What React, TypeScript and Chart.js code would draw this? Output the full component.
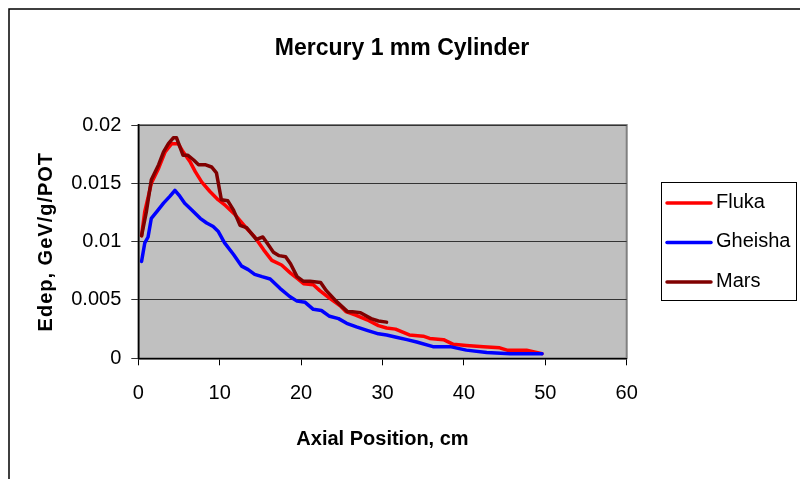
import React, { useEffect, useRef } from 'react';
import { Chart, registerables } from 'chart.js';

Chart.register(...registerables);

const chartTitle = 'Mercury 1 mm Cylinder';
const xAxisTitle = 'Axial Position, cm';
const yAxisTitle = 'Edep, GeV/g/POT';
const xTickLabels = ['0', '10', '20', '30', '40', '50', '60'];
const yTickLabels = ['0', '0.005', '0.01', '0.015', '0.02'];
const seriesNames = ['Fluka', 'Gheisha', 'Mars'];
const seriesColors = ['#ff0000', '#0000ff', '#800000'];

const flukaX = [0.4, 0.8, 1.6, 2.5, 3.3, 4.1, 4.9, 5.5, 6.4, 7.0, 7.8, 8.8, 9.8, 10.7, 11.9, 13.1, 14.3, 15.4, 16.4, 17.6, 18.7, 19.6, 20.3, 21.5, 22.3, 23.4, 24.8, 25.5, 26.7, 28.1, 29.5, 30.5, 31.6, 33.3, 35.0, 35.8, 37.5, 38.7, 40.3, 42.4, 44.4, 45.3, 47.7, 49.6];
const flukaY = [0.0105, 0.0126, 0.0150, 0.0163, 0.0177, 0.0184, 0.0184, 0.0177, 0.0168, 0.0160, 0.0151, 0.0143, 0.0136, 0.0131, 0.0123, 0.0113, 0.0104, 0.0093, 0.0084, 0.0080, 0.0073, 0.0068, 0.0064, 0.0063, 0.0058, 0.0052, 0.0045, 0.0040, 0.0037, 0.0033, 0.0028, 0.0026, 0.0025, 0.0020, 0.0019, 0.0017, 0.0016, 0.0012, 0.0011, 0.0010, 0.0009, 0.0007, 0.0007, 0.0004];

const gheishaX = [0.4, 0.8, 1.2, 1.6, 2.3, 3.1, 3.9, 4.5, 5.1, 5.7, 6.6, 7.6, 8.4, 9.2, 9.8, 10.6, 11.7, 12.7, 13.5, 14.3, 15.2, 16.2, 17.4, 18.6, 19.5, 20.5, 21.5, 22.5, 23.5, 24.6, 25.6, 26.8, 28.1, 29.5, 30.5, 31.7, 33.0, 34.2, 36.2, 38.3, 40.3, 42.8, 45.7, 49.6];
const gheishaY = [0.0083, 0.0099, 0.0104, 0.0120, 0.0126, 0.0133, 0.0139, 0.0144, 0.0139, 0.0133, 0.0127, 0.0120, 0.0116, 0.0113, 0.0109, 0.0099, 0.0089, 0.0079, 0.0076, 0.0072, 0.0070, 0.0068, 0.0060, 0.0053, 0.0049, 0.0048, 0.0042, 0.0041, 0.0036, 0.0034, 0.0030, 0.0027, 0.0024, 0.0021, 0.0020, 0.0018, 0.0016, 0.0014, 0.0010, 0.0010, 0.0007, 0.0005, 0.0004, 0.0004];

const marsX = [0.4, 1.0, 1.6, 2.5, 3.1, 3.7, 4.3, 4.7, 5.5, 6.1, 6.8, 7.4, 8.2, 9.0, 9.6, 10.2, 11.0, 11.7, 12.5, 13.3, 14.5, 15.3, 15.8, 16.6, 17.3, 18.1, 18.7, 19.5, 20.3, 21.1, 22.4, 23.1, 24.3, 25.7, 26.3, 27.3, 28.6, 29.5, 30.5];
const marsY = [0.0105, 0.0126, 0.0153, 0.0166, 0.0177, 0.0184, 0.0189, 0.0189, 0.0174, 0.0174, 0.0170, 0.0166, 0.0166, 0.0164, 0.0159, 0.0136, 0.0135, 0.0127, 0.0114, 0.0112, 0.0102, 0.0104, 0.0099, 0.0091, 0.0088, 0.0087, 0.0081, 0.0070, 0.0066, 0.0066, 0.0065, 0.0058, 0.0049, 0.0040, 0.0040, 0.0039, 0.0034, 0.0032, 0.0031];

const FONT = '"Liberation Sans", Arial, sans-serif';

const decorPlugin = {
  id: 'decor',
  beforeDraw(chart: any) {
    const { ctx, chartArea: a } = chart;
    ctx.save();
    ctx.fillStyle = '#ffffff';
    ctx.fillRect(0, 0, chart.width, chart.height);
    ctx.strokeStyle = '#000000';
    ctx.lineWidth = 1.5;
    ctx.beginPath();
    ctx.moveTo(1, chart.height);
    ctx.lineTo(1, 1);
    ctx.lineTo(chart.width, 1);
    ctx.stroke();
    ctx.fillStyle = '#c0c0c0';
    ctx.fillRect(a.left, a.top, a.right - a.left, a.bottom - a.top);
    ctx.strokeStyle = '#808080';
    ctx.lineWidth = 2;
    ctx.strokeRect(a.left, a.top, a.right - a.left, a.bottom - a.top);
    ctx.restore();
  },
  afterDraw(chart: any) {
    const { ctx, chartArea: a } = chart;
    ctx.save();
    ctx.fillStyle = '#000000';
    ctx.font = `bold 23px ${FONT}`;
    ctx.textAlign = 'center';
    ctx.textBaseline = 'alphabetic';
    ctx.fillText(chartTitle, 394, 47);
    ctx.font = `bold 20px ${FONT}`;
    ctx.fillText(xAxisTitle, (a.left + a.right) / 2, 437);
    ctx.save();
    ctx.translate(38, (a.top + a.bottom) / 2);
    ctx.rotate(-Math.PI / 2);
    ctx.textBaseline = 'middle';
    (ctx as any).letterSpacing = '1px';
    ctx.fillText(yAxisTitle, 0, 0);
    ctx.restore();
    const lx = 653, ly = 174, lw = 135, lh = 118;
    ctx.fillStyle = '#ffffff';
    ctx.fillRect(lx, ly, lw, lh);
    ctx.strokeStyle = '#000000';
    ctx.lineWidth = 1;
    ctx.strokeRect(lx + 0.5, ly + 0.5, lw, lh);
    ctx.font = `20px ${FONT}`;
    ctx.textAlign = 'left';
    ctx.textBaseline = 'middle';
    seriesNames.forEach((name, i) => {
      const cy = ly + 21 + i * 39.5;
      ctx.strokeStyle = seriesColors[i];
      ctx.lineWidth = 3.5;
      ctx.lineCap = 'round';
      ctx.beginPath();
      ctx.moveTo(lx + 6, cy);
      ctx.lineTo(lx + 50, cy);
      ctx.stroke();
      ctx.fillStyle = '#000000';
      ctx.fillText(name, lx + 55, cy - 1);
    });
    ctx.restore();
  },
};

export default function App() {
  const canvasRef = useRef<HTMLCanvasElement | null>(null);

  useEffect(() => {
    document.body.style.overflow = 'hidden';
    const canvas = canvasRef.current;
    if (!canvas) return;
    const toPts = (xs: number[], ys: number[]) => xs.map((x, i) => ({ x, y: ys[i] }));
    const common = { borderWidth: 3.5, pointRadius: 0, tension: 0, fill: false, borderJoinStyle: 'round', borderCapStyle: 'round' };
    const chart = new Chart(canvas, {
      type: 'line',
      data: {
        datasets: [
          { label: seriesNames[0], data: toPts(flukaX, flukaY), borderColor: seriesColors[0], order: 2, ...common },
          { label: seriesNames[1], data: toPts(gheishaX, gheishaY), borderColor: seriesColors[1], order: 1, ...common },
          { label: seriesNames[2], data: toPts(marsX, marsY), borderColor: seriesColors[2], order: 0, ...common },
        ],
      },
      options: {
        animation: false,
        responsive: false,
        maintainAspectRatio: false,
        devicePixelRatio: 1,
        layout: { padding: { left: 0, top: 117, right: 173.3, bottom: 0 } },
        plugins: {
          legend: { display: false },
          title: { display: false },
          tooltip: { enabled: false },
        },
        scales: {
          x: {
            type: 'linear',
            min: 0,
            max: 60,
            ticks: {
              stepSize: 10,
              padding: 16,
              color: '#000000',
              font: { family: FONT, size: 20 },
              callback: (v: any, i: number) => xTickLabels[i] ?? String(v),
            },
            grid: { drawOnChartArea: false, drawTicks: true, tickLength: 7, color: '#000000', lineWidth: 1 },
            border: { color: '#000000', width: 1.5 },
            afterFit: (s: any) => { s.height = 120.7; },
          },
          y: {
            type: 'linear',
            min: 0,
            max: 0.02,
            ticks: {
              stepSize: 0.005,
              padding: 10,
              color: '#000000',
              font: { family: FONT, size: 20 },
              callback: (v: any, i: number) => yTickLabels[i] ?? String(v),
            },
            grid: { color: '#333333', tickLength: 7, lineWidth: 1 },
            border: { color: '#000000', width: 1.5 },
            afterFit: (s: any) => { s.width = 130.3; },
          },
        },
      },
      plugins: [decorPlugin],
    } as any);
    return () => chart.destroy();
  }, []);

  return (
    <div style={{ position: 'fixed', left: 8, top: 8, width: 792, height: 471 }}>
      <canvas ref={canvasRef} width={792} height={471} style={{ display: 'block', width: 792, height: 471 }} />
    </div>
  );
}
